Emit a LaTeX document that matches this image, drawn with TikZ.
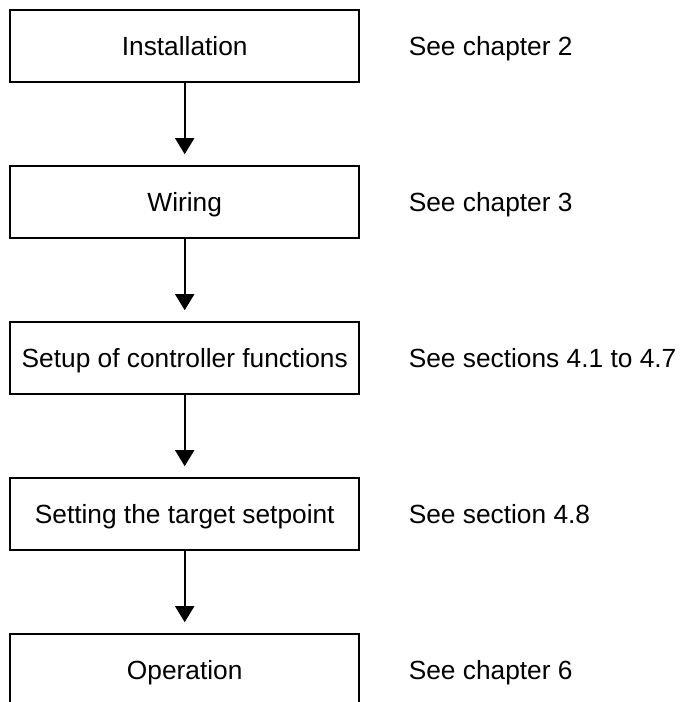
\documentclass[tikz,border=0pt]{standalone}
\usepackage{fontspec}
\setmainfont{Liberation Sans}
\usetikzlibrary{arrows.meta,positioning}

\begin{document}
\begin{tikzpicture}[->,>={Triangle[width=19pt,length=16pt]},line width=1.6pt,
  node distance=82.4pt,
  every node/.style={font=\fontsize{26.3pt}{30pt}\selectfont,text height=18.8pt,text depth=0pt},
  stepbox/.style={draw,minimum width=349pt,minimum height=72pt,inner sep=0pt},
  seelabel/.style={inner sep=0pt,anchor=west}]
  \useasboundingbox (0,0) rectangle (680pt,-702pt);
  % steps
  \node (inst) [stepbox] at (184.7pt,-46pt) {Installation};
  \node (wire) [stepbox,below=of inst] {Wiring};
  \node (setup) [stepbox,below=of wire] {Setup of controller functions};
  \node (target) [stepbox,below=of setup] {Setting the target setpoint};
  \node (oper) [stepbox,below=of target] {Operation};
  % references
  \node (inst-see) [seelabel,right=48pt of inst] {See chapter 2};
  \node (wire-see) [seelabel,right=48pt of wire] {See chapter 3};
  \node (setup-see) [seelabel,right=48pt of setup] {See sections 4.1 to 4.7};
  \node (target-see) [seelabel,right=48pt of target] {See section 4.8};
  \node (oper-see) [seelabel,right=48pt of oper] {See chapter 6};
  % flow
  \path (inst) edge [shorten >=11pt] (wire);
  \path (wire) edge [shorten >=11pt] (setup);
  \path (setup) edge [shorten >=11pt] (target);
  \path (target) edge [shorten >=11pt] (oper);
\end{tikzpicture}
\end{document}
